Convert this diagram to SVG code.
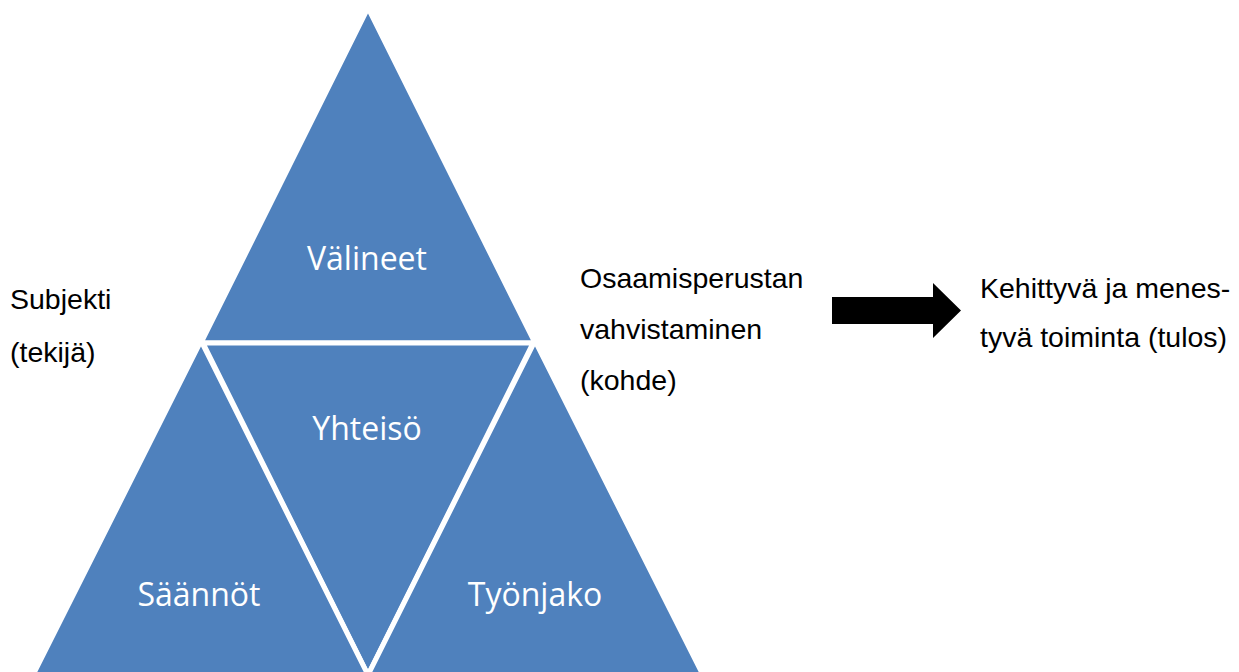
<svg xmlns="http://www.w3.org/2000/svg" width="1239" height="672" viewBox="0 0 1239 672">
  <style>
    .tri { fill: #4F81BD; stroke: #FFFFFF; stroke-width: 5; stroke-linejoin: miter; }
    .inner { font-family: "Open Sans", "Noto Sans", sans-serif; font-size: 32px; fill: #FFFFFF; text-anchor: middle; }
    .label { font-family: "Liberation Sans", Arial, sans-serif; font-size: 28.5px; fill: #000000; }
  </style>

  <!-- Activity-system pyramid: four triangles -->
  <g id="node-valineet">
    <polygon class="tri" points="368,8 201,343 535,343"/>
    <text class="inner" x="367" y="270">Välineet</text>
  </g>
  <g id="node-yhteiso">
    <polygon class="tri" points="203,343 533,343 368,675"/>
    <text class="inner" x="367" y="440">Yhteisö</text>
  </g>
  <g id="node-saannot">
    <polygon class="tri" points="201,341 368,675 33,675"/>
    <text class="inner" x="199" y="606">Säännöt</text>
  </g>
  <g id="node-tyonjako">
    <polygon class="tri" points="535,341 703,675 368,675"/>
    <text class="inner" x="535" y="606">Työnjako</text>
  </g>

  <!-- Side labels -->
  <g id="node-subjekti">
    <text class="label" x="10" y="309">Subjekti</text>
    <text class="label" x="10" y="362">(tekijä)</text>
  </g>
  <g id="node-kohde">
    <text class="label" x="580" y="288">Osaamisperustan</text>
    <text class="label" x="580" y="339">vahvistaminen</text>
    <text class="label" x="580" y="390">(kohde)</text>
  </g>
  <g id="node-tulos">
    <text class="label" x="980" y="298">Kehittyvä ja menes-</text>
    <text class="label" x="980" y="347">tyvä toiminta (tulos)</text>
  </g>

  <!-- Connectors -->
  <g id="connectors">
    <polygon points="832,297 933,297 933,283 961,310.5 933,338 933,324 832,324" fill="#000000"/>
  </g>
</svg>
